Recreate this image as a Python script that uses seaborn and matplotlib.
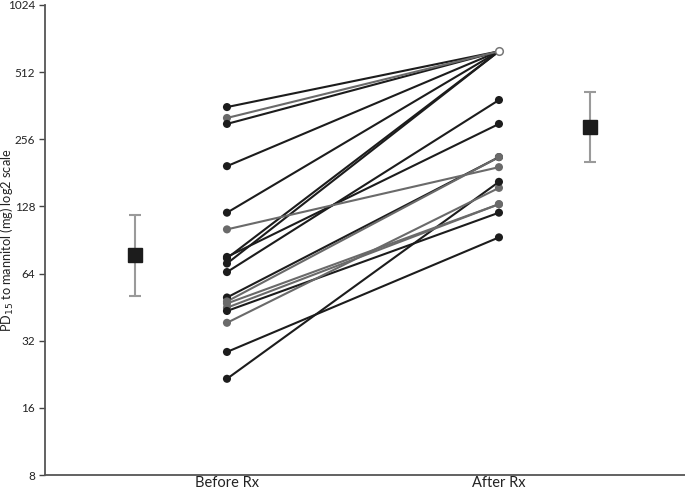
import numpy as np
import pandas as pd
import seaborn as sns
import matplotlib.pyplot as plt
from matplotlib.ticker import FixedLocator, NullLocator

# ── Data (PD15, mg) ───────────────────────────────────────────────────────────
before = [357, 319, 300, 194, 120, 101, 76, 75, 71, 65,
          50, 48, 47, 45, 43.5, 38.5, 28.5, 21.6]
after = [635, 635, 635, 635, 635, 192, 300, 635, 635, 384,
         213, 213, 131, 131, 120, 155, 93, 165]
shade = ["dark", "grey", "dark", "dark", "dark", "grey", "dark", "dark", "dark",
         "dark", "dark", "grey", "grey", "grey", "dark", "grey", "dark", "dark"]
max_dose = 635

groups = ["Before Rx", "After Rx"]
mean_vals = [77.5, 291]
mean_lo = [50.9, 202]
mean_hi = [117, 416]
y_ticks = [8, 16, 32, 64, 128, 256, 512, 1024]

# ── Long table ────────────────────────────────────────────────────────────────
df = pd.DataFrame({
    "subject": np.repeat(np.arange(len(before)), 2),
    "x": np.tile([1.0, 2.0], len(before)),
    "pd15": np.ravel(np.column_stack([before, after])),
    "shade": np.repeat(shade, 2),
})
df["censored"] = (df["x"] == 2.0) & (df["pd15"] >= max_dose)

palette = {"dark": "#1c1c1c", "grey": "#6a6a6a"}

sns.set_style("white")
plt.rcParams["font.family"] = ["Lato", "DejaVu Sans"]

fig = plt.figure(figsize=(6.85, 4.9), dpi=100)
ax = fig.add_axes([45 / 685, 15 / 490, 640 / 685, 470 / 490])

sns.lineplot(data=df, x="x", y="pd15", units="subject", estimator=None,
             hue="shade", palette=palette, linewidth=1.5, legend=False,
             sort=False, ax=ax, zorder=2)
sns.scatterplot(data=df[~df["censored"]], x="x", y="pd15", hue="shade",
                palette=palette, s=34, edgecolor="none", legend=False,
                ax=ax, zorder=3)
sns.scatterplot(data=df[df["censored"]].drop_duplicates("pd15"), x="x", y="pd15",
                color="white", edgecolor="#777777", linewidth=1.1, s=30,
                legend=False, ax=ax, zorder=4)

# group means with error bars
mean_x = [0.662, 2.335]
mv = np.array(mean_vals)
ax.errorbar(mean_x, mv, yerr=[mv - np.array(mean_lo), np.array(mean_hi) - mv],
            fmt="s", color="#1c1c1c", markersize=10, ecolor="#9a9a9a",
            elinewidth=1.5, capsize=4, capthick=1.5, zorder=5)

# ── Axes styling ──────────────────────────────────────────────────────────────
ax.set_yscale("log", base=2)
ax.set_ylim(8, 1024)
ax.yaxis.set_major_locator(FixedLocator(y_ticks))
ax.yaxis.set_minor_locator(NullLocator())
ax.set_yticklabels([str(t) for t in y_ticks], fontsize=8.5, color="#222222")
ax.set_xlim(0.331, 2.684)
ax.set_xticks([1, 2])
ax.set_xticklabels(groups, fontsize=10.5, color="#222222")
ax.tick_params(axis="y", length=4, width=1, color="#444444", left=True, pad=3)
ax.tick_params(axis="x", length=0, pad=1)
ax.set_xlabel("")
ax.set_ylabel("PD$_{15}$ to mannitol (mg) log2 scale", fontsize=9.2,
              color="#222222")
ax.yaxis.set_label_coords(-0.045, 0.5)

for side in ["top", "right"]:
    ax.spines[side].set_visible(False)
for side in ["left", "bottom"]:
    ax.spines[side].set_color("#555555")
    ax.spines[side].set_linewidth(1.3)

fig.savefig("out.png", dpi=100)
